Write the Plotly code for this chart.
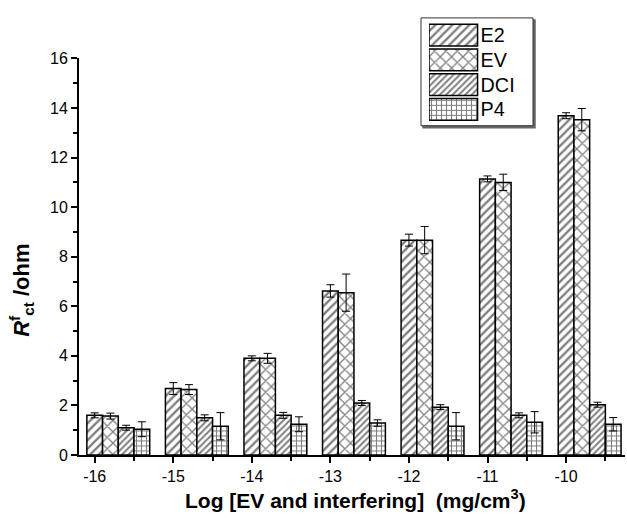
import plotly.graph_objects as go

# Log concentration of each group
log_conc = [-16, -15, -14, -13, -12, -11, -10]

# Mean R_ct^f (ohm) and standard deviation for each analyte
e2 = [1.60, 2.68, 3.90, 6.62, 8.67, 11.14, 13.69]
e2_err = [0.10, 0.24, 0.10, 0.25, 0.24, 0.12, 0.12]
ev = [1.57, 2.64, 3.90, 6.55, 8.67, 11.00, 13.53]
ev_err = [0.12, 0.20, 0.20, 0.75, 0.55, 0.33, 0.45]
dci = [1.10, 1.50, 1.60, 2.10, 1.93, 1.60, 2.03]
dci_err = [0.10, 0.12, 0.12, 0.10, 0.10, 0.10, 0.10]
p4 = [1.04, 1.16, 1.24, 1.29, 1.16, 1.32, 1.24]
p4_err = [0.30, 0.55, 0.30, 0.13, 0.55, 0.43, 0.27]

series_names = ["E2", "EV", "DCI", "P4"]
series_vals = [e2, ev, dci, p4]
series_errs = [e2_err, ev_err, dci_err, p4_err]
hatch_shapes = ["/", "x", "/", "+"]
hatch_sizes = [6, 8, 4.5, 5]
hatch_solid = [0.4, 0.3, 0.45, 0.4]

BAR_W = 0.2
FONT = "Liberation Sans, Arial"

fig = go.Figure()
for k, (name, vals, errs) in enumerate(zip(series_names, series_vals, series_errs)):
    fig.add_trace(go.Bar(
        x=log_conc, y=vals, name=name,
        width=BAR_W, offset=-BAR_W / 2 + k * BAR_W,
        marker=dict(
            color="white",
            line=dict(color="black", width=1.5),
            pattern=dict(shape=hatch_shapes[k], size=hatch_sizes[k],
                         solidity=hatch_solid[k], fgcolor="black",
                         bgcolor="white"),
        ),
        error_y=dict(type="data", array=errs, visible=True,
                     color="black", thickness=1, width=4),
        showlegend=False,
    ))

# Key: one patch per series, drawn on a small inset axis
fig.add_trace(go.Bar(
    y=series_names, x=[1] * len(series_names), orientation="h",
    xaxis="x2", yaxis="y2",
    marker=dict(
        color="white",
        line=dict(color="black", width=1.5),
        pattern=dict(shape=hatch_shapes, size=hatch_sizes,
                     solidity=hatch_solid, fgcolor="black", bgcolor="white"),
    ),
    text=series_names, textposition="outside", cliponaxis=False,
    textfont=dict(family=FONT, size=20, color="black"),
    showlegend=False, hoverinfo="skip",
))

W, H = 627, 519
ML, MR, MT, MB = 79, 2, 5, 64
pw, ph = W - ML - MR, H - MT - MB


def px_x(px):
    return (px - ML) / pw


def px_y(py):
    return (H - MB - py) / ph


axis_font = dict(family=FONT, size=16, color="black")

fig.update_layout(
    width=W, height=H,
    margin=dict(l=ML, r=MR, t=MT, b=MB),
    paper_bgcolor="white", plot_bgcolor="rgba(0,0,0,0)",
    barmode="overlay",
    bargap=0.12,
    xaxis=dict(
        range=[-16.2, -9.25], tickvals=log_conc, ticktext=[str(v) for v in log_conc],
        showline=True, linecolor="black", linewidth=2,
        ticks="outside", ticklen=6, tickwidth=1.5, tickcolor="black",
        minor=dict(ticks="outside", ticklen=4, tickwidth=1.5, tickcolor="black",
                   dtick=0.5, tick0=-16),
        showgrid=False, zeroline=False, tickfont=axis_font,
    ),
    yaxis=dict(
        domain=[0, px_y(54)], range=[0, 16], dtick=2, tick0=0,
        showline=True, linecolor="black", linewidth=2,
        ticks="outside", ticklen=6, tickwidth=1.5, tickcolor="black",
        minor=dict(ticks="outside", ticklen=4, tickwidth=1.5, tickcolor="black",
                   dtick=1),
        showgrid=False, zeroline=False, tickfont=axis_font,
    ),
    xaxis2=dict(domain=[px_x(429), px_x(531)], range=[0, 2.1], anchor="y2",
                visible=False, fixedrange=True),
    yaxis2=dict(domain=[px_y(118), px_y(18)], anchor="x2", autorange="reversed",
                visible=False, fixedrange=True, type="category"),
    shapes=[
        dict(type="rect", xref="paper", yref="paper", layer="below",
             x0=px_x(423), x1=px_x(535), y0=px_y(124), y1=px_y(15),
             line=dict(color="#666666", width=1.5), fillcolor="#666666"),
        dict(type="rect", xref="paper", yref="paper", layer="below",
             x0=px_x(421), x1=px_x(533), y0=px_y(122), y1=px_y(13),
             line=dict(color="#333333", width=1), fillcolor="white"),
    ],
    annotations=[
        dict(text="<b><i>R</i><sup>f</sup><sub>ct</sub> /ohm</b>",
             xref="paper", yref="paper", x=px_x(22), y=px_y(289),
             textangle=-90, showarrow=False, xanchor="center", yanchor="middle",
             font=dict(family=FONT, size=22, color="black")),
        dict(text="<b>Log [EV and interfering]&nbsp;&nbsp;(mg/cm<sup>3</sup>)</b>",
             xref="paper", yref="paper", x=px_x(355), y=px_y(499),
             showarrow=False, xanchor="center", yanchor="middle",
             font=dict(family=FONT, size=21, color="black")),
    ],
)

fig.write_html("out.html")
